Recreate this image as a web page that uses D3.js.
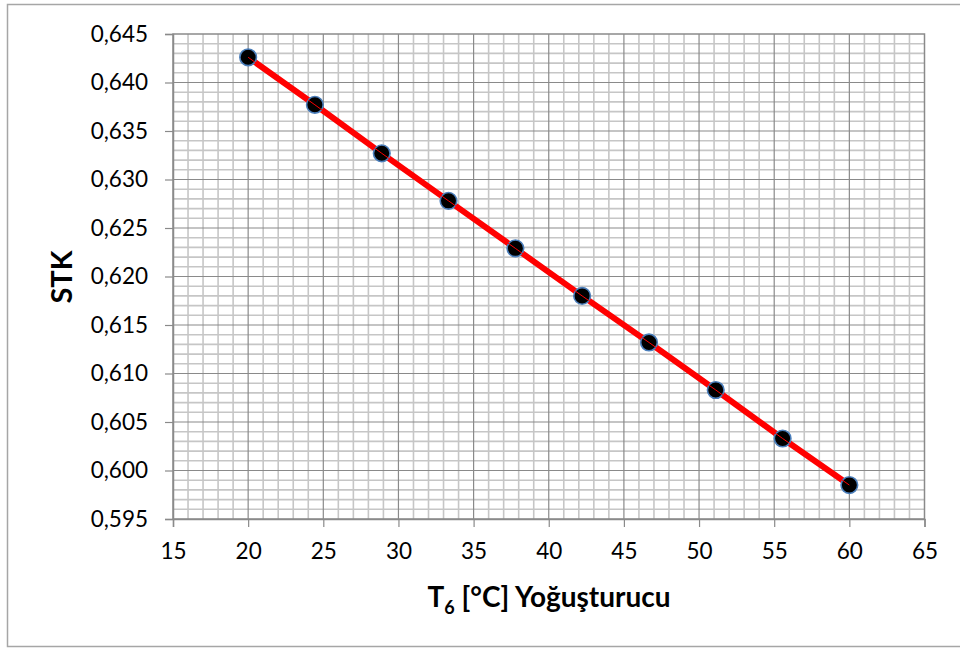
<!DOCTYPE html>
<meta charset="utf-8">
<style>
body { margin: 0; background: #fff; }
text { font-family: Lato, "Liberation Sans", sans-serif; fill: #000; }
</style>
<body>
<svg width="960" height="648"></svg>
</body>
<script src="https://d3js.org/d3.v7.min.js"></script>
<script>
// T6 condenser temperature vs STK
const t6 = [20, 24.44, 28.89, 33.33, 37.78, 42.22, 46.67, 51.11, 55.56, 60]
const stk = [0.6426, 0.6377, 0.6327, 0.6278, 0.6229, 0.6180, 0.6132, 0.6083, 0.6033, 0.5985]
const xTicks = [15, 20, 25, 30, 35, 40, 45, 50, 55, 60, 65]
const yTicks = [0.595, 0.600, 0.605, 0.610, 0.615, 0.620, 0.625, 0.630, 0.635, 0.640, 0.645]

const svg = d3.select("svg")
const plot = {left: 173, right: 924.5, top: 34, bottom: 519}

const x = d3.scaleLinear().domain([15, 65]).range([plot.left, plot.right])
const y = d3.scaleLinear().domain([0.595, 0.645]).range([plot.bottom, plot.top])

// outer chart frame
svg.append("rect")
  .attr("x", 7.5).attr("y", 4.5)
  .attr("width", 960).attr("height", 642)
  .attr("fill", "none").attr("stroke", "#a6a6a6").attr("stroke-width", 1.5)

// minor grid, 1 unit / 0.001
const grid = svg.append("g")
grid.selectAll(".vminor")
  .data(d3.range(16, 65).filter(d => d % 5 != 0))
  .enter().append("line")
    .attr("x1", d => x(d)).attr("x2", d => x(d))
    .attr("y1", plot.top).attr("y2", plot.bottom)
    .attr("stroke", "#c6c6c6").attr("stroke-width", 1.6)
grid.selectAll(".hminor")
  .data(d3.range(1, 50).filter(d => d % 5 != 0).map(d => 0.595 + d * 0.001))
  .enter().append("line")
    .attr("y1", d => y(d)).attr("y2", d => y(d))
    .attr("x1", plot.left).attr("x2", plot.right)
    .attr("stroke", "#c6c6c6").attr("stroke-width", 1.6)

// major grid
grid.selectAll(".vmajor")
  .data(xTicks.slice(1, -1))
  .enter().append("line")
    .attr("x1", d => x(d)).attr("x2", d => x(d))
    .attr("y1", plot.top).attr("y2", plot.bottom)
    .attr("stroke", "#8a8a8a").attr("stroke-width", 1.2)
grid.selectAll(".hmajor")
  .data(yTicks.slice(1, -1))
  .enter().append("line")
    .attr("y1", d => y(d)).attr("y2", d => y(d))
    .attr("x1", plot.left).attr("x2", plot.right)
    .attr("stroke", "#8a8a8a").attr("stroke-width", 1.2)

// plot area border
svg.append("rect")
  .attr("x", plot.left).attr("y", plot.top)
  .attr("width", plot.right - plot.left).attr("height", plot.bottom - plot.top)
  .attr("fill", "none").attr("stroke", "#8a8a8a").attr("stroke-width", 1.5)

const fmt = d => d3.format(".3f")(d).replace(".", ",")

// axes
const xAxis = svg.append("g")
  .attr("transform", `translate(0,${plot.bottom})`)
  .call(d3.axisBottom(x).tickValues(xTicks).tickSize(8).tickPadding(16))
const yAxis = svg.append("g")
  .attr("transform", `translate(${plot.left},0)`)
  .call(d3.axisLeft(y).tickValues(yTicks).tickFormat(fmt).tickSize(8).tickPadding(17))

for (const ax of [xAxis, yAxis]) {
  ax.select(".domain").attr("stroke", "#8a8a8a").attr("stroke-width", 1.5)
  ax.selectAll(".tick line").attr("stroke", "#8a8a8a").attr("stroke-width", 1.2)
  ax.selectAll(".tick text").attr("font-size", 22.5).attr("font-family", "Lato").attr("fill", "#000")
}

// series
const line = d3.line().x((d, i) => x(t6[i])).y(d => y(d))
svg.append("path")
  .datum(stk)
  .attr("d", line)
  .attr("fill", "none").attr("stroke", "#ff0000").attr("stroke-width", 6)

svg.selectAll(".dot")
  .data(stk)
  .enter().append("circle")
    .attr("cx", (d, i) => x(t6[i]))
    .attr("cy", d => y(d))
    .attr("r", 8.3)
    .attr("fill", "#000")
    .attr("stroke", "#4a7ebb").attr("stroke-width", 1.6)

svg.append("path")
  .datum(stk)
  .attr("d", line)
  .attr("fill", "none").attr("stroke", "#ff0000").attr("stroke-width", 1)

// axis titles
const xt = svg.append("text")
  .attr("x", 549).attr("y", 607)
  .attr("text-anchor", "middle")
  .attr("font-size", 28).attr("font-weight", "bold")
xt.append("tspan").text("T")
xt.append("tspan").attr("font-size", 18).attr("dy", 7).text("6")
xt.append("tspan").attr("dy", -7).text(" [°C] Yoğuşturucu")

svg.append("text")
  .attr("transform", "translate(72,277) rotate(-90)")
  .attr("text-anchor", "middle")
  .attr("font-size", 29).attr("font-weight", "bold")
  .text("STK")
</script>
